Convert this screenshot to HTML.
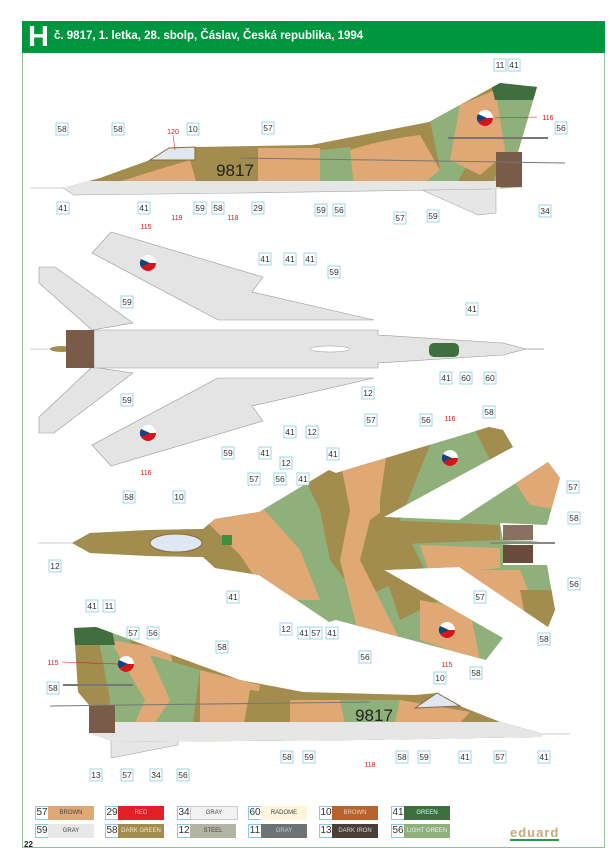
<!DOCTYPE html>
<html><head><meta charset="utf-8">
<style>
html,body{margin:0;padding:0;background:#fff;}
body{width:613px;height:868px;position:relative;overflow:hidden;font-family:"Liberation Sans",sans-serif;}
.frame{position:absolute;left:22px;top:21px;width:581px;height:825px;border:1px solid #8fbf9f;}
.hdr{position:absolute;left:22px;top:21px;width:583px;height:32px;background:#009640;color:#fff;}
.hdr .H{position:absolute;left:6px;top:0px;font-size:29px;font-weight:bold;line-height:32px;}
.hdr .t{position:absolute;left:32px;top:9px;font-size:11.5px;font-weight:bold;}
svg{position:absolute;left:0;top:0;}
.lg{position:absolute;height:13px;font-size:6px;white-space:nowrap;}
.lg .n{position:absolute;left:0;top:0;width:12px;height:12px;border:1px solid #8cd;background:#fff;font-size:10px;line-height:12px;text-align:center;color:#333;}
.lg .c{position:absolute;left:13px;top:0;width:46px;height:14px;line-height:14px;text-align:center;color:#444;white-space:nowrap;overflow:hidden;}
</style></head><body>
<div class="frame"></div>
<div class="hdr"><span class="H">H</span><span class="t">č. 9817, 1. letka, 28. sbolp, Čáslav, Česká republika, 1994</span></div>

<svg width="613" height="868" viewBox="0 0 613 868" font-family="Liberation Sans, sans-serif">
<defs>
<clipPath id="s1"><path d="M63,188 L100,178 L150,160 L169,150 L195,147 L311,145 L429,122 L500,83 L537,87 L518,152 L522,160 L522,187 L492,189 L244,193 L74,195 Z"/></clipPath>
<clipPath id="s2"><path d="M544,734 L500,722 L460,706 L437,693 L415,695 L303,692 L240,680 L96,627 L74,628 L78,692 L89,705 L89,733 L115,742 L360,740 L541,737 Z"/></clipPath>
<clipPath id="cam"><path d="M72,543 L90,533 L150,530 L203,529 L215,519 L259,512 L329,470 L336,473 L489,427 L503,430 L513,447 L384,517 L459,520 L548,462 L560,478 L547,525 L500,523 L503,540 L540,541 L503,545 L503,565 L547,565 L555,610 L548,627 L459,567 L384,570 L503,638 L486,660 L336,620 L329,622 L259,575 L215,568 L203,557 L150,556 L90,553 Z"/></clipPath>
<g id="rd"><circle r="8" fill="#fff"/><path d="M-8,0 A8,8 0 0,0 8,0 Z" fill="#d7141a"/><path d="M-7,-4 L2,0 L-7,4 A8,8 0 0,1 -7,-4Z" fill="#11457e"/></g>
</defs>

<!-- SIDE VIEW 1 -->
<line x1="30" y1="188" x2="64" y2="188" stroke="#999" stroke-width="0.6"/>
<polygon points="422,190 478,215 496,213 496,188" fill="#e6e6e6" stroke="#999" stroke-width="0.5"/>
<g clip-path="url(#s1)">
<rect x="50" y="70" width="500" height="140" fill="#a28c4e"/>
<path d="M100,188 L150,172 L190,160 L200,195 L100,195Z" fill="#e0a874"/>
<path d="M258,148 L320,148 L325,195 L258,195Z" fill="#e0a874"/>
<path d="M320,150 L350,147 L355,195 L320,195Z" fill="#8fb07a"/>
<path d="M350,150 Q380,140 420,135 L440,170 L410,195 L355,195Z" fill="#e0a874"/>
<path d="M410,195 L440,170 L430,120 L465,100 L470,160 L450,195Z" fill="#8fb07a"/>
<path d="M460,105 L495,90 L510,150 L480,175 L450,160Z" fill="#e0a874"/>
<path d="M495,88 L540,85 L530,190 L490,190 L505,150Z" fill="#8fb07a"/>
<path d="M490,80 L540,80 L535,100 L495,100Z" fill="#3f6f3e"/>
<rect x="50" y="181" width="450" height="20" fill="#e6e6e6"/>
</g>
<path d="M63,188 L74,195 L244,193 L492,189" fill="none" stroke="#aaa" stroke-width="0.6"/>
<rect x="496" y="152" width="26" height="35" fill="#7a5a48"/>
<path d="M150,160 L169,148 L195,147 L195,160Z" fill="#dfe8f0" stroke="#8a6a40" stroke-width="1"/>
<line x1="241" y1="158" x2="565" y2="163" stroke="#777" stroke-width="1"/>
<line x1="448" y1="138" x2="548" y2="138" stroke="#777" stroke-width="2"/>
<text x="235" y="176" font-size="17" text-anchor="middle" fill="#222">9817</text>
<use href="#rd" x="485" y="118"/>

<!-- TOP VIEW (underside) -->
<line x1="30" y1="349" x2="66" y2="349" stroke="#999" stroke-width="0.6"/>
<ellipse cx="62" cy="349" rx="12" ry="3" fill="#a28c4e"/>
<g fill="#e4e4e4" stroke="#999" stroke-width="0.6">
<polygon points="39,267 55,267 133,323 92,330 39,283"/>
<polygon points="39,433 54,433 133,373 92,367 39,417"/>
<polygon points="111,232 263,277 252,292 374,320 218,320 92,253"/>
<polygon points="111,466 263,421 252,406 374,378 218,378 92,445"/>
<path d="M94,330 L378,330 L378,335 L503,343 L526,349 L503,355 L378,363 L378,368 L94,368 Z"/>
</g>
<line x1="526" y1="349" x2="544" y2="349" stroke="#999" stroke-width="0.7"/>
<rect x="66" y="330" width="28" height="38" fill="#7a5a48"/>
<rect x="429" y="343" width="30" height="14" rx="5" fill="#3f6f3e"/>
<ellipse cx="330" cy="349" rx="20" ry="3" fill="#fff" stroke="#999" stroke-width="0.5"/>
<use href="#rd" x="148" y="263"/>
<use href="#rd" x="148" y="433"/>

<!-- TOP VIEW (camouflage) -->
<line x1="38" y1="543" x2="72" y2="543" stroke="#999" stroke-width="0.6"/>
<g clip-path="url(#cam)">
<rect x="60" y="400" width="520" height="280" fill="#8fb07a"/>
<path d="M60,520 L240,510 L280,540 L300,580 L280,600 L60,600Z" fill="#a28c4e"/>
<path d="M200,515 L260,505 L300,550 L320,600 L270,600 L240,555Z" fill="#e0a874"/>
<path d="M300,470 L360,450 L400,500 L380,540 L400,580 L360,600 L330,560 L320,510Z" fill="#a28c4e"/>
<path d="M340,460 L390,440 L410,490 L370,520 L360,560 L400,640 L360,640 L340,560 L350,510Z" fill="#e0a874"/>
<path d="M390,430 L440,420 L420,470 L400,520 L440,600 L400,620 L380,560 L380,500Z" fill="#a28c4e"/>
<path d="M380,520 L500,525 L500,540 L380,545Z" fill="#a28c4e"/>
<path d="M420,545 L500,548 L500,568 L430,575Z" fill="#e0a874"/>
<path d="M470,420 L520,420 L520,470 L490,460Z" fill="#a28c4e"/>
<path d="M500,460 L560,455 L560,510 L530,505Z" fill="#e0a874"/>
<path d="M460,570 L520,570 L540,620 L500,610Z" fill="#e0a874"/>
<path d="M520,590 L560,590 L560,640 L530,640Z" fill="#a28c4e"/>
<path d="M420,600 L470,610 L480,660 L420,640Z" fill="#e0a874"/>
</g>
<rect x="503" y="525" width="30" height="15" fill="#8a7060"/>
<rect x="503" y="545" width="30" height="18" fill="#6a4a3a"/>
<line x1="490" y1="543" x2="555" y2="543" stroke="#888" stroke-width="2"/>
<ellipse cx="176" cy="543" rx="26" ry="9" fill="#dfe8f2" stroke="#8a6a40" stroke-width="1"/>
<rect x="222" y="535" width="10" height="10" fill="#3f8f3e"/>
<use href="#rd" x="450" y="458"/>
<use href="#rd" x="447" y="630"/>

<!-- SIDE VIEW 2 -->
<line x1="544" y1="734" x2="570" y2="734" stroke="#999" stroke-width="0.6"/>
<polygon points="111,728 111,758 178,745 178,735" fill="#e6e6e6" stroke="#999" stroke-width="0.5"/>
<g clip-path="url(#s2)">
<rect x="60" y="620" width="500" height="130" fill="#a28c4e"/>
<path d="M96,625 L130,640 L150,700 L120,745 L100,745 L110,700 Z" fill="#8fb07a"/>
<path d="M110,640 L170,650 L180,700 L150,745 L125,745 L145,700Z" fill="#e0a874"/>
<path d="M150,655 L200,670 L190,745 L140,745 L170,700Z" fill="#8fb07a"/>
<path d="M200,670 L260,685 L250,745 L200,745Z" fill="#e0a874"/>
<path d="M250,690 L300,695 L310,720 L280,745 L240,745Z" fill="#a28c4e"/>
<path d="M290,700 L340,700 L350,745 L290,745Z" fill="#e0a874"/>
<path d="M340,700 L400,700 L400,745 L350,745Z" fill="#8fb07a"/>
<path d="M400,700 L470,712 L450,745 L390,745Z" fill="#e0a874"/>
<path d="M470,712 L544,734 L500,745 L440,745Z" fill="#a28c4e"/>
<path d="M70,620 L110,620 L115,645 L75,645Z" fill="#3f6f3e"/>
<rect x="60" y="722" width="490" height="25" fill="#e6e6e6"/>
</g>
<rect x="89" y="705" width="26" height="28" fill="#7a5a48"/>
<path d="M415,708 L437,693 L460,706 L415,708Z" fill="#dfe8f0" stroke="#8a6a40" stroke-width="1"/>
<line x1="50" y1="706" x2="370" y2="702" stroke="#777" stroke-width="1"/>
<line x1="63" y1="685" x2="133" y2="685" stroke="#777" stroke-width="2"/>
<text x="374" y="721" font-size="17" text-anchor="middle" fill="#222">9817</text>
<use href="#rd" x="126" y="664"/>

<g font-size="8.5" text-anchor="middle" fill="#333">
<g id="labs"></g>
</g>
<g font-size="7" fill="#d7141a" text-anchor="middle">
<text x="173" y="134">120</text><text x="177" y="220">119</text><text x="233" y="220">118</text><text x="548" y="120">116</text>
<text x="146" y="229">115</text><text x="146" y="475">116</text><text x="450" y="421">116</text><text x="447" y="667">115</text>
<text x="53" y="665">115</text><text x="370" y="767">118</text>
</g>
<g stroke="#d7141a" stroke-width="0.5">
<line x1="173" y1="135" x2="175" y2="150"/><line x1="537" y1="117" x2="495" y2="118"/><line x1="62" y1="662" x2="118" y2="664"/>
</g>
</svg>

<script>
(function(){
var L=[[500,65,"11"],[514,65,"41"],[62,129,"58"],[118,129,"58"],[193,129,"10"],[268,128,"57"],[561,128,"56"],[63,208,"41"],[144,208,"41"],[200,208,"59"],[218,208,"58"],[258,208,"29"],[321,210,"59"],[339,210,"56"],[400,218,"57"],[433,216,"59"],[545,211,"34"],
[265,259,"41"],[290,259,"41"],[310,259,"41"],[334,272,"59"],[127,302,"59"],[127,400,"59"],[472,309,"41"],[446,378,"41"],[466,378,"60"],[490,378,"60"],[368,393,"12"],[290,432,"41"],[312,432,"12"],[265,453,"41"],[228,453,"59"],
[371,420,"57"],[426,420,"56"],[489,412,"58"],[333,454,"41"],[286,463,"12"],[254,479,"57"],[280,479,"56"],[303,479,"41"],[129,497,"58"],[179,497,"10"],[573,487,"57"],[574,518,"58"],[55,566,"12"],[233,597,"41"],[574,584,"56"],[480,597,"57"],[544,639,"58"],[286,629,"12"],[304,633,"41"],[316,633,"57"],[332,633,"41"],[365,657,"56"],[476,673,"58"],
[92,606,"41"],[109,606,"11"],[133,633,"57"],[153,633,"56"],[222,647,"58"],[53,688,"58"],[440,678,"10"],[287,757,"58"],[309,757,"59"],[402,757,"58"],[424,757,"59"],[465,757,"41"],[500,757,"57"],[544,757,"41"],[96,775,"13"],[127,775,"57"],[156,775,"34"],[183,775,"56"]];
var g=document.getElementById("labs"),ns="http://www.w3.org/2000/svg";
L.forEach(function(a){var r=document.createElementNS(ns,"rect");r.setAttribute("x",a[0]-6);r.setAttribute("y",a[1]-6);r.setAttribute("width",12);r.setAttribute("height",12);r.setAttribute("fill","#fff");r.setAttribute("stroke","#8cd");r.setAttribute("stroke-width","0.8");g.appendChild(r);
var t=document.createElementNS(ns,"text");t.setAttribute("x",a[0]);t.setAttribute("y",a[1]+3);t.textContent=a[2];g.appendChild(t);});
})();
</script>

<div class="lg" style="left:35px;top:806px"><span class="n">57</span><span class="c" style="background:#e0a874">BROWN</span></div>
<div class="lg" style="left:105px;top:806px"><span class="n">29</span><span class="c" style="background:#e21f26;color:#fbb">RED</span></div>
<div class="lg" style="left:177px;top:806px"><span class="n">34</span><span class="c" style="background:#f2f2f2;border:1px solid #ccc;height:12px;line-height:12px">GRAY</span></div>
<div class="lg" style="left:248px;top:806px"><span class="n">60</span><span class="c" style="background:#fdf6dc">RADOME</span></div>
<div class="lg" style="left:319px;top:806px"><span class="n">10</span><span class="c" style="background:#b8622e;color:#f5d0b0">BROWN</span></div>
<div class="lg" style="left:391px;top:806px"><span class="n">41</span><span class="c" style="background:#3f6f3e;color:#cfe">GREEN</span></div>
<div class="lg" style="left:35px;top:824px"><span class="n">59</span><span class="c" style="background:#e8e8e8">GRAY</span></div>
<div class="lg" style="left:105px;top:824px"><span class="n">58</span><span class="c" style="background:#a28c4e;color:#f4ead0">DARK GREEN</span></div>
<div class="lg" style="left:177px;top:824px"><span class="n">12</span><span class="c" style="background:#b4b4a4">STEEL</span></div>
<div class="lg" style="left:248px;top:824px"><span class="n">11</span><span class="c" style="background:#6d7275;color:#ccc">GRAY</span></div>
<div class="lg" style="left:319px;top:824px"><span class="n">13</span><span class="c" style="background:#4a3e36;color:#ddd">DARK IRON</span></div>
<div class="lg" style="left:391px;top:824px"><span class="n">56</span><span class="c" style="background:#8fb07a;color:#eef">LIGHT GREEN</span></div>
<div style="position:absolute;left:510px;top:827px;font-size:13px;font-weight:bold;color:#c9a978;letter-spacing:1px;border-bottom:2px solid #2a9a48;line-height:12px">eduard</div>
<div style="position:absolute;left:24px;top:840px;font-size:8px;font-weight:bold;color:#222">22</div>
</body></html>
